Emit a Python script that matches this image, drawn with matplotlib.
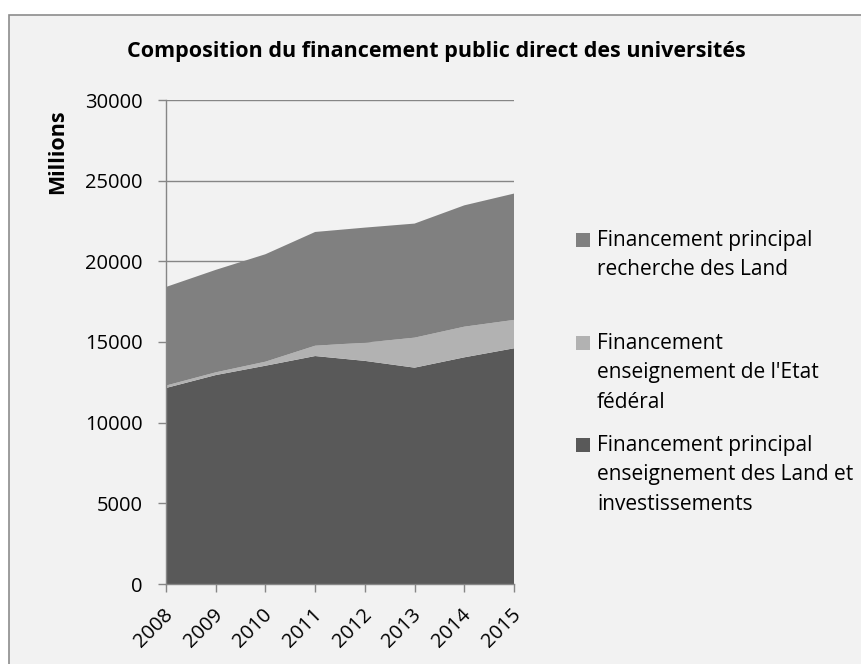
import matplotlib.pyplot as plt
import matplotlib.transforms as mtransforms
from matplotlib.patches import Rectangle

# ---------------------------------------------------------------------
# Data (millions)
# ---------------------------------------------------------------------
years = [2008, 2009, 2010, 2011, 2012, 2013, 2014, 2015]
enseignement_land = [12150, 12950, 13530, 14130, 13830, 13410, 14050, 14610]
enseignement_etat = [150, 170, 250, 640, 1130, 1860, 1900, 1760]
recherche_land = [6110, 6350, 6660, 7050, 7130, 7070, 7520, 7830]

labels = [
    "Financement principal\nrecherche des Land",
    "Financement\nenseignement de l'Etat\nfédéral",
    "Financement principal\nenseignement des Land et\ninvestissements",
]
colors = ["#808080", "#b2b2b2", "#595959"]

plt.rcParams['font.family'] = ['Open Sans', 'DejaVu Sans']

W, H = 862, 664
fig = plt.figure(figsize=(W / 100, H / 100), dpi=100)
fig.patch.set_facecolor('white')

# chart area background with grey border (runs off the right/bottom edge)
fig.add_artist(Rectangle((9 / W, -0.1), 1.2, 1.1 - 15 / H, transform=fig.transFigure,
                         facecolor='#f2f2f2', edgecolor='#8c8c8c', linewidth=1.2, zorder=0))

ax = fig.add_axes([166 / W, 1 - 584 / H, (514 - 166) / W, (584 - 100) / H])
ax.set_facecolor('none')

ax.stackplot(years, enseignement_land, enseignement_etat, recherche_land,
             colors=[colors[2], colors[1], colors[0]], linewidth=0, zorder=2)

ax.set_xlim(years[0], years[-1])
ax.set_ylim(0, 30000)
ax.set_yticks(range(0, 30001, 5000))
ax.set_xticks(years)
ax.set_xticklabels([str(y) for y in years], rotation=45, ha='right', va='center',
                   rotation_mode='anchor')
ax.yaxis.grid(True, color='#868686', linewidth=1.0, zorder=1)
ax.set_axisbelow(True)

for s in ['top', 'right']:
    ax.spines[s].set_visible(False)
for s in ['left', 'bottom']:
    ax.spines[s].set_color('#868686')
    ax.spines[s].set_linewidth(1.0)
ax.tick_params(axis='both', colors='#868686', labelcolor='black',
               labelsize=14.5, length=6, width=1.0)
ax.tick_params(axis='y', pad=11)
ax.tick_params(axis='x', pad=14)
shift = mtransforms.ScaledTranslation(4 / 100, 0, fig.dpi_scale_trans)
for lbl in ax.get_xticklabels():
    lbl.set_transform(lbl.get_transform() + shift)

fig.text(436 / W, 1 - 52 / H, "Composition du financement public direct des universités",
         ha='center', va='center', fontsize=15.5, fontweight='bold')
fig.text(58 / W, 1 - 152 / H, "Millions", rotation=90, ha='center', va='center',
         fontsize=15.5, fontweight='bold')

# legend drawn by hand to match the layout
leg_rows = [240, 343, 445]
for lab, col, yy in zip(labels, colors, leg_rows):
    fig.add_artist(Rectangle((576 / W, 1 - (yy + 7) / H), 14 / W, 14 / H,
                             transform=fig.transFigure, facecolor=col, edgecolor='none'))
    fig.text(597 / W, 1 - (yy - 10) / H, lab, ha='left', va='top',
             fontsize=15, linespacing=1.52)

plt.savefig('out.png', dpi=100)
